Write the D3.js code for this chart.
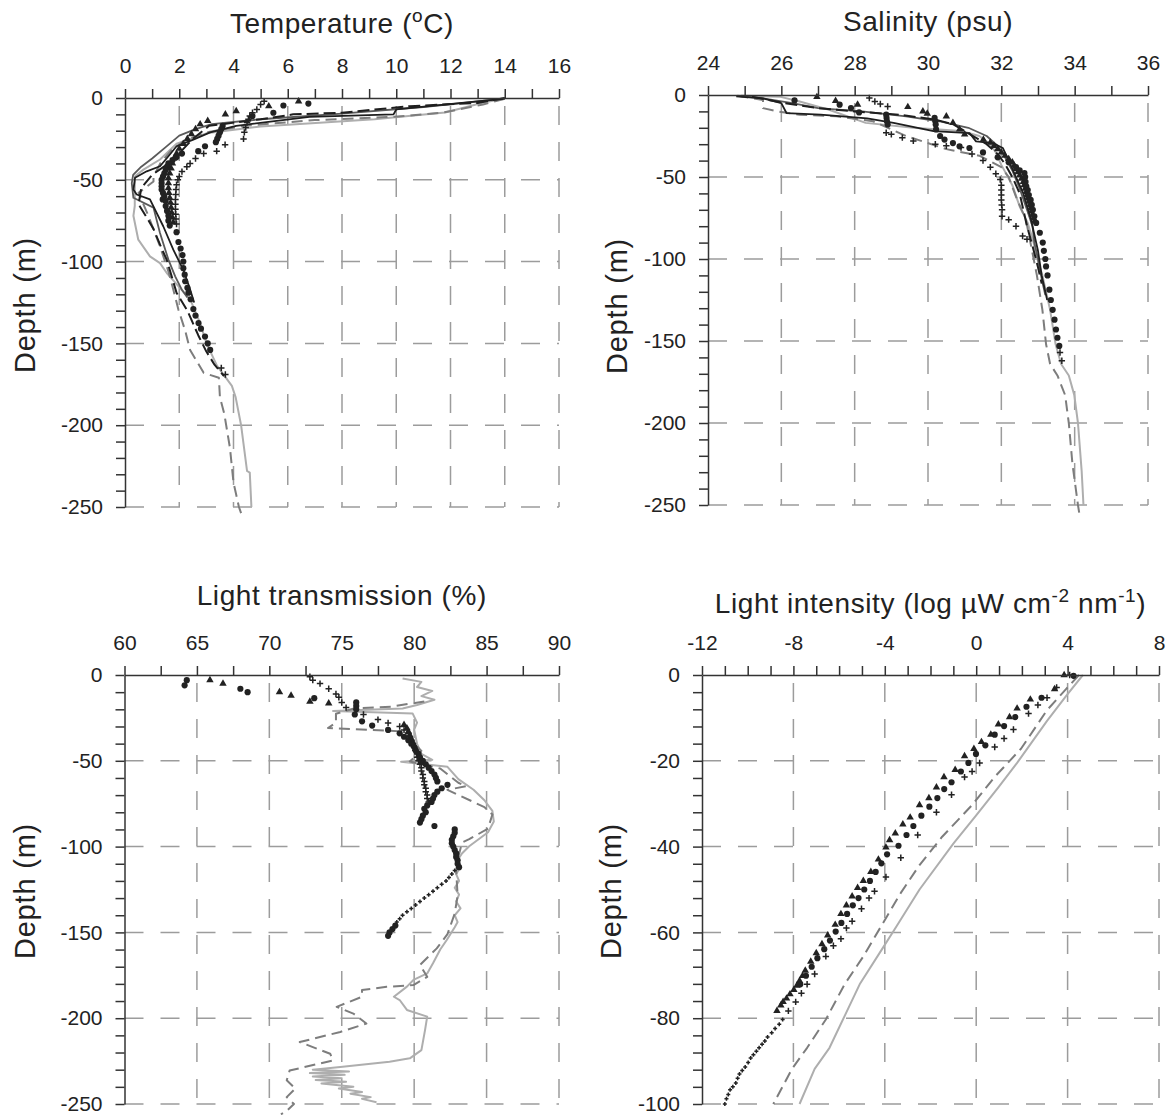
<!DOCTYPE html>
<html>
<head>
<meta charset="utf-8">
<script src="https://cdn.jsdelivr.net/npm/d3@7"></script>
<style>
  body { margin: 0; background: #fff; }
  svg { font-family: "Liberation Sans", Arial, Helvetica, sans-serif; }
</style>
</head>
<body>
<div id="chart"></div>
<script>
/* DATA: each profile is a list of [value, depth] */

// Temperature (deg C)
const tempGray = [[14.0,-0.4],[13.3,-2.5],[11.8,-8.9],[9.2,-13],[5.0,-17.4],[3.0,-21.6],[1.9,-28],[1.29,-37.6],[0.68,-43.8],[0.37,-47.8],[0.36,-55.5],[0.36,-66],[0.31,-72],[0.49,-86.6],[0.92,-96.8],[1.29,-100.9],[1.54,-107],[2.4,-123],[2.77,-137.6],[3.0,-149.8],[3.39,-163.6],[3.94,-176],[4.08,-183],[4.28,-200],[4.5,-228],[4.6,-229],[4.66,-250]];
const tempDashGray = [[14.0,-0.5],[13.2,-4],[11.7,-9],[9.9,-11.5],[7.0,-13.5],[4.4,-17],[3.0,-21],[2.2,-26],[1.7,-32],[1.3,-40],[1.05,-48],[1.05,-51],[0.5,-58],[0.86,-72],[1.29,-90.7],[1.6,-106],[1.78,-117],[1.97,-129.4],[2.21,-141.7],[2.4,-154],[2.9,-168],[3.46,-171],[3.5,-183],[3.66,-193],[3.87,-214],[4.0,-235],[4.2,-250],[4.35,-257]];
const tempBlack = [[13.95,-0.5],[12.98,-2],[10.0,-7],[9.9,-10],[6.8,-11.5],[4.1,-17],[3.14,-21],[2.52,-25.4],[1.9,-29.5],[1.6,-35.6],[1.29,-41.7],[0.8,-44.8],[0.37,-48.8],[0.31,-56],[0.43,-59],[0.92,-62],[1.41,-78.4],[1.78,-92.7],[2.15,-105],[2.4,-117],[2.55,-125]];
const tempDarkGray = [[14.0,-0.3],[12.5,-3],[11.0,-5.5],[8.0,-9.5],[5.0,-13],[3.2,-16],[2.6,-19],[2.0,-23],[1.5,-30],[1.0,-37],[0.6,-42],[0.3,-47],[0.25,-52],[0.31,-61],[1.05,-67],[1.29,-82.5],[1.6,-98.8],[1.85,-109],[2.09,-117],[2.3,-122]];
const tempBlackDash = [[14.0,0],[13.0,-3],[10.5,-5],[8.0,-9],[6.2,-10],[5.0,-13],[3.1,-17],[2.5,-25],[2.1,-32],[1.6,-40],[1.0,-47],[0.6,-55],[0.5,-65],[0.8,-73],[1.05,-80],[1.3,-90],[1.54,-99],[1.9,-119],[2.3,-130],[2.7,-145],[3.0,-155],[3.3,-163],[3.65,-170]];
const tempTri = [[6.4,-2],[5.3,-5],[4.1,-8],[3.7,-10],[3.05,-14],[2.77,-16],[2.6,-19],[2.45,-22],[2.3,-25],[2.15,-28],[2.0,-31],[1.9,-34],[1.8,-37],[1.75,-40],[1.7,-43],[1.65,-46],[1.6,-49],[1.6,-52],[1.6,-55],[1.62,-58],[1.65,-61],[1.68,-64],[1.7,-67],[1.72,-70],[1.75,-73],[1.78,-76]];
const tempCirc = [[6.76,-3.4],[5.84,-4.6],[5.47,-9],[4.7,-11],[3.6,-17],[3.55,-19],[3.5,-21],[3.45,-23],[3.4,-25],[3.35,-27],[2.95,-29.5],[2.7,-32.5],[2.1,-34],[1.9,-36],[1.75,-38],[1.6,-40],[1.55,-42],[1.5,-44],[1.45,-46],[1.4,-48],[1.35,-50],[1.35,-52],[1.35,-54],[1.35,-56],[1.4,-58],[1.45,-60],[1.39,-62],[1.5,-63],[1.5,-66],[1.55,-69],[1.6,-72],[1.6,-75],[1.65,-78],[1.9,-82],[1.97,-88],[2.05,-92],[2.12,-96],[2.15,-100],[2.15,-104],[2.2,-108],[2.22,-112],[2.3,-116],[2.34,-119],[2.42,-123],[2.52,-129],[2.6,-133],[2.71,-137.6],[2.8,-141],[2.95,-145.8],[3.05,-150],[3.14,-154]];
const tempPlus = [[5.13,-2],[5.0,-4],[4.86,-7],[4.7,-9],[4.6,-11],[4.55,-13],[4.5,-15],[4.45,-18],[4.4,-21],[4.37,-25],[3.69,-28.5],[3.38,-32.5],[2.9,-34],[2.6,-37],[2.4,-40],[2.28,-42],[2.1,-45],[2.0,-48],[1.95,-50],[1.9,-53],[1.88,-56],[1.87,-59],[1.86,-62],[1.86,-65],[1.86,-68],[1.87,-71],[1.88,-74],[1.9,-77],[3.55,-165],[3.7,-169]];

// Salinity (psu)
const salGray = [[24.9,-0.5],[25.95,-1],[26.5,-4],[27.3,-9],[28.3,-17],[29.6,-20],[30.9,-22],[31.4,-25],[31.7,-30],[31.85,-35],[32.0,-42.6],[32.3,-55],[32.5,-68],[32.72,-78],[32.87,-89],[32.97,-99],[33.12,-110],[33.33,-131],[33.48,-152],[33.63,-164],[33.84,-171],[33.99,-183],[34.09,-200],[34.19,-229],[34.24,-250]];
const salDashGray = [[24.8,-0.5],[25.5,-3],[25.5,-8],[25.9,-10],[26.5,-12],[27.5,-13],[28.5,-16],[29.4,-25],[30.5,-33],[31.4,-37],[32.0,-44],[32.2,-50],[32.4,-62],[32.67,-76],[32.82,-93],[32.97,-110],[33.12,-131],[33.22,-152],[33.33,-164],[33.53,-171],[33.74,-183],[33.84,-200],[33.94,-225],[34.09,-250],[34.14,-257]];
const salBlack = [[24.77,-0.8],[25.5,-2],[26.0,-5],[26.14,-11],[27.07,-12],[28.34,-14.2],[29.06,-17],[30.15,-22],[31.13,-23.2],[31.31,-28.3],[31.77,-29.3],[32.04,-32.3],[32.2,-40],[32.4,-50],[32.6,-60],[32.8,-75],[32.9,-85],[33.0,-95],[33.1,-110],[33.25,-125]];
const salDarkGray = [[24.8,-0.5],[25.5,-2],[26.3,-5],[27.0,-8],[28.2,-10],[29.4,-13],[30.3,-16],[31.1,-20],[31.6,-25],[31.9,-31],[32.1,-38],[32.3,-46],[32.5,-57],[32.7,-70],[32.85,-80],[32.9,-90],[33.0,-100],[33.1,-112],[33.2,-122]];
const salBlackDash = [[25.2,-1],[26.1,-5],[27.0,-8],[28.0,-10],[29.2,-12],[30.2,-15],[30.7,-18],[31.3,-26],[31.6,-30],[31.9,-36],[32.1,-42],[32.3,-50],[32.5,-60],[32.6,-70],[32.7,-80],[32.85,-92],[33.0,-105],[33.1,-115]];
const salTri = [[26.97,-1.2],[27.48,-3.5],[28.08,-5.8],[29.45,-7.3],[29.86,-10],[29.98,-11.3],[30.5,-13],[30.68,-17],[30.86,-21],[31.0,-24],[31.51,-27.2],[31.7,-29],[31.8,-31],[31.9,-33],[32.0,-35],[32.1,-37],[32.2,-39],[32.3,-41],[32.35,-43],[32.4,-45],[32.45,-47],[32.5,-49],[32.55,-51],[32.6,-53],[32.62,-55],[32.65,-57],[32.68,-59],[32.7,-61],[32.72,-63],[32.75,-65],[32.78,-67],[32.8,-69],[32.82,-71],[32.85,-73],[32.88,-75],[32.9,-77]];
const salCirc = [[26.36,-3.3],[27.59,-5.9],[27.9,-8],[28.12,-10.6],[28.86,-12],[28.87,-14],[28.88,-16],[28.9,-18],[30.18,-14],[30.2,-16],[30.21,-18],[30.22,-21],[30.33,-25],[30.45,-27.2],[30.68,-29.3],[30.86,-31.3],[31.13,-32.3],[31.5,-35],[31.9,-38],[32.2,-41],[32.4,-44],[32.5,-46],[32.63,-47.6],[32.65,-50],[32.66,-53],[32.68,-55.7],[32.72,-58],[32.75,-61],[32.8,-64],[32.83,-67],[32.86,-70],[32.9,-74],[32.95,-78],[33.05,-84],[33.13,-90],[33.16,-95],[33.2,-100],[33.22,-104.5],[33.26,-110],[33.31,-118.7],[33.35,-125],[33.4,-131],[33.45,-137],[33.49,-143],[33.53,-148],[33.58,-153]];
const salPlus = [[28.4,-1.8],[28.55,-4],[28.7,-5.5],[28.9,-7],[28.86,-23],[29.0,-24],[29.3,-26],[29.6,-28],[30.2,-30],[30.5,-31],[30.9,-32],[31.2,-36],[31.5,-40],[31.7,-44],[31.85,-48],[31.97,-51.6],[32.0,-55],[32.0,-58],[32.0,-61],[32.0,-64],[32.01,-67],[32.02,-70],[32.02,-74],[32.2,-76],[32.4,-80],[32.58,-86],[32.7,-88],[33.6,-157],[33.65,-162]];

// Light transmission (%)
const trGray = [[79.2,-2],[80.5,-4],[80.2,-7],[81.25,-9.3],[80.5,-12.3],[81.4,-14.4],[80.2,-17.5],[79.2,-19.5],[74.4,-21],[79.9,-22.5],[80.2,-27.8],[80.0,-31.9],[80.2,-40.1],[80.5,-46],[81.25,-49.4],[79.1,-50.5],[82.3,-53.5],[83.05,-60.7],[84.1,-66.9],[84.85,-73],[85.4,-79.2],[85.5,-85.4],[85.1,-91.6],[83.8,-99.8],[83.3,-104],[83.0,-108],[83.2,-112],[82.9,-116],[83.1,-120],[82.8,-124],[83.1,-128],[82.9,-132],[83.2,-136],[82.8,-140],[83.0,-144],[82.8,-147],[82.25,-154.4],[81.8,-160],[81.3,-168],[80.9,-173.9],[79.95,-177.7],[79.5,-181.6],[78.6,-187.5],[79.0,-189.4],[79.5,-195.2],[80.9,-199.1],[80.75,-206.9],[80.5,-218.6],[79.7,-223.4],[78.3,-225.4],[74.9,-228.4],[73.0,-230],[75.5,-231],[72.8,-232],[75.2,-233],[73.0,-234],[75.0,-235],[73.2,-236],[75.3,-237],[73.6,-238],[75.8,-240],[74.8,-241],[76.4,-243],[75.6,-244],[77.0,-246],[76.4,-247],[77.4,-249]];
const trDashGray = [[80.7,-15.4],[78.4,-18.5],[75.85,-19.5],[74.6,-22.6],[74.6,-27.8],[74.05,-30.9],[79.2,-32.9],[80.5,-44.2],[79.7,-50.4],[81.8,-54.5],[83.05,-62.8],[83.6,-64.8],[82.3,-66.9],[84.85,-77],[85.4,-81.3],[85.1,-89.5],[83.8,-95.7],[83.3,-97.7],[83.05,-106],[82.9,-114],[83.0,-128.6],[82.8,-139],[82.3,-151],[81.56,-159.3],[80.4,-169],[80.9,-175.9],[79.95,-180.7],[78.1,-181.7],[76.4,-183.6],[76.4,-187.5],[74.65,-193.4],[75.8,-197.3],[76.7,-203.1],[74.9,-208],[72.1,-213.9],[74.2,-220.7],[74.4,-224.6],[71.4,-230.5],[71.2,-236.2],[71.8,-241],[71.2,-246],[71.7,-250],[71.2,-254],[70.8,-256]];
const trTri = [[65.9,-3],[66.8,-5],[70.7,-10],[71.5,-12],[72.8,-15.5],[74.1,-16.5],[79.3,-29],[79.5,-31],[79.6,-33],[79.7,-35],[79.8,-37],[79.9,-39],[80.0,-41],[80.1,-43],[80.2,-45],[80.3,-47],[80.4,-49],[80.5,-51]];
const trCirc = [[64.3,-3],[64.15,-6],[68.0,-8],[68.5,-10],[73.1,-13.5],[76.0,-16],[76.0,-18],[76.0,-20],[75.9,-23],[76.4,-27],[77.1,-29.5],[78.2,-32],[79.0,-34],[79.3,-36],[79.6,-38],[79.8,-40],[80.0,-42],[80.1,-44],[80.3,-46],[80.4,-48],[80.6,-50],[80.8,-52],[81.0,-54],[81.2,-56],[81.4,-58],[81.5,-60],[81.6,-62],[82.3,-64],[81.9,-66],[81.6,-68],[81.4,-70],[81.3,-72],[81.2,-74],[80.9,-76],[80.7,-78],[80.8,-80],[80.6,-82],[80.5,-84],[80.4,-86],[81.4,-88],[82.8,-90],[82.8,-92],[82.7,-94],[82.6,-96],[82.6,-98],[82.7,-100],[82.8,-102],[82.9,-104],[82.9,-106],[83.0,-108],[83.0,-110],[83.1,-112],[78.7,-146],[78.5,-148],[78.3,-150],[78.2,-152]];
const trPlus = [[72.8,-1],[73.0,-3],[73.5,-5],[74.1,-8],[74.6,-11],[74.8,-13],[75.0,-16],[75.3,-19],[76.5,-23],[77.5,-26],[78.2,-28],[79.0,-30],[79.3,-32],[79.6,-34],[79.7,-36],[79.8,-38],[79.9,-40],[80.0,-42],[80.1,-44],[80.2,-46],[80.2,-48],[80.3,-50],[80.4,-52],[80.5,-54],[80.5,-56],[80.6,-58],[80.6,-60],[80.7,-62],[80.7,-64],[80.8,-66],[80.8,-68],[80.9,-70],[80.9,-72],[81.0,-74],[82.8,-114],[82.6,-116],[82.4,-118],[82.2,-120],[81.9,-122],[81.6,-124],[81.3,-126],[81.0,-128],[80.7,-130],[80.4,-132],[80.1,-134],[79.8,-136],[79.5,-138],[79.2,-140],[79.0,-142],[78.8,-144]];

// Light intensity (log uW cm-2 nm-1)
const liGray = [[4.67,0],[3.93,-4.9],[3.1,-10.7],[1.79,-20.5],[0.97,-26.2],[-0.01,-32.8],[-1.0,-39.3],[-2.48,-50],[-3.63,-59.8],[-4.12,-63.9],[-5.1,-72.1],[-5.76,-79.5],[-6.42,-86.9],[-7.07,-91.8],[-7.73,-100]];
const liDashGray = [[4.5,0],[3.93,-3.3],[3.1,-8.2],[1.96,-17.2],[0.8,-23.8],[-0.18,-30.3],[-1.49,-37.7],[-2.48,-44.3],[-3.3,-50.8],[-4.12,-58.2],[-4.94,-65.6],[-5.76,-72.1],[-6.58,-80.3],[-7.4,-86.9],[-8.06,-91.8],[-8.88,-100]];
const liTri = [[3.85,0],[3.43,-3.3],[2.37,-5.7],[1.79,-7.8],[1.46,-9.8],[0.97,-11.5],[0.64,-13.9],[0.23,-15.6],[-0.1,-17.2],[-0.51,-18.9],[-0.92,-22.1],[-1.41,-23.8],[-1.74,-26.2],[-2.07,-28.7],[-2.48,-30.3],[-2.89,-33.2],[-3.21,-34.8],[-3.54,-36.9],[-3.79,-38.5],[-3.95,-40.2],[-4.28,-43],[-4.61,-45.9],[-4.94,-48],[-5.19,-49.6],[-5.43,-51.6],[-5.68,-53.7],[-5.92,-55.7],[-6.17,-58.2],[-6.5,-60.7],[-6.75,-62.7],[-7.0,-64.8],[-7.24,-66.8],[-7.48,-68.9],[-7.6,-70.1],[-7.73,-71.3],[-7.85,-72.4],[-7.98,-73.4],[-8.15,-74.4],[-8.3,-75.4],[-8.45,-76.2],[-8.55,-77],[-8.72,-78.3]];
const liCirc = [[4.26,-0.2],[2.86,-5.3],[2.2,-7.4],[1.71,-9.8],[1.22,-11.9],[0.81,-13.9],[0.4,-16.4],[-0.01,-18.4],[-0.34,-20.5],[-0.67,-22.5],[-1.08,-25],[-1.4,-26.6],[-1.7,-28.7],[-2.05,-30.7],[-2.4,-32.8],[-2.75,-35.2],[-3.05,-37.3],[-3.4,-39.8],[-3.9,-41.8],[-4.15,-43.9],[-4.4,-45.9],[-4.65,-48],[-4.9,-50],[-5.15,-52],[-5.4,-53.7],[-5.65,-55.7],[-5.9,-57.8],[-6.15,-59.8],[-6.4,-61.9],[-6.65,-63.9],[-6.95,-66],[-7.2,-68],[-7.45,-70.1],[-7.7,-72.1]];
const liPlus = [[4.09,0],[3.52,-2.9],[3.1,-5.3],[2.7,-7],[2.29,-9],[1.63,-12.7],[1.22,-14.8],[0.81,-16.8],[0.15,-20.5],[-0.18,-22.5],[-0.51,-23.8],[-1.08,-27.9],[-1.74,-32],[-2.56,-37.3],[-3.3,-42.6],[-3.95,-47.1],[-4.45,-50.4],[-4.69,-52],[-5.02,-54.5],[-5.43,-57.4],[-5.68,-59],[-5.92,-61.5],[-6.25,-63.1],[-6.58,-65.6],[-7.07,-69.7],[-7.4,-72.1],[-7.65,-74.2],[-7.9,-76.2],[-8.22,-78.3],[-8.47,-80.3],[-8.62,-81.4],[-8.8,-82.4],[-8.95,-83.4],[-9.13,-84.4],[-9.25,-85.3],[-9.37,-86.1],[-9.5,-86.9],[-9.62,-87.7],[-9.75,-88.5],[-9.87,-89.3],[-9.98,-90.3],[-10.11,-91.4],[-10.24,-92.2],[-10.36,-93],[-10.44,-94],[-10.52,-95.1],[-10.65,-96],[-10.77,-96.7],[-10.85,-97.8],[-10.93,-98.8],[-11.0,-100]];

/* STYLES */
const lineStyles = {
  gray:     { stroke: "#aeaeae", width: 2,   dash: null },
  dashGray: { stroke: "#7d7d7d", width: 2,   dash: "11,6" },
  black:    { stroke: "#1e1e1e", width: 1.8, dash: null },
  darkGray: { stroke: "#5a5a5a", width: 1.8, dash: null },
  blackDash:{ stroke: "#1e1e1e", width: 2,   dash: "12,5" }
};
const ink = "#222";
const gridColor = "#9c9c9c";

/* PANELS (layout only) — titles are centred over the plot area;
   smallPlusBelow: depth under which the plus marks are drawn small */
const panels = [
  { xDomain: [0, 16], xRange: [125, 559], yDomain: [0, -250], yRange: [98, 507],
    xMinor: 1, xMajor: 2, yMinor: 10, yMajor: 50,
    title: [{ t: "Temperature (" }, { t: "o", sup: true }, { t: "C)" }], titleY: 33,
    labelX: 25, labelY: 305, smallPlusBelow: -999,
    lines: [[tempGray, "gray"], [tempDashGray, "dashGray"], [tempDarkGray, "darkGray"], [tempBlack, "black"], [tempBlackDash, "blackDash"]],
    marks: [[tempTri, "tri"], [tempCirc, "circ"], [tempPlus, "plus"]] },
  { xDomain: [24, 36], xRange: [708, 1148], yDomain: [0, -250], yRange: [95, 505],
    xMinor: 1, xMajor: 2, yMinor: 10, yMajor: 50,
    title: [{ t: "Salinity (psu)" }], titleY: 31,
    labelX: 617, labelY: 306, smallPlusBelow: -999,
    lines: [[salGray, "gray"], [salDashGray, "dashGray"], [salDarkGray, "darkGray"], [salBlack, "black"], [salBlackDash, "blackDash"]],
    marks: [[salTri, "tri"], [salCirc, "circ"], [salPlus, "plus"]] },
  { xDomain: [60, 90], xRange: [124.5, 559], yDomain: [0, -250], yRange: [675, 1104],
    xMinor: 2.5, xMajor: 5, yMinor: 10, yMajor: 50,
    title: [{ t: "Light transmission (%)" }], titleY: 605,
    labelX: 25, labelY: 891, smallPlusBelow: -110,
    lines: [[trGray, "gray"], [trDashGray, "dashGray"]],
    marks: [[trTri, "tri"], [trCirc, "circ"], [trPlus, "plus"]] },
  { xDomain: [-12, 8], xRange: [702, 1159], yDomain: [0, -100], yRange: [675, 1104],
    xMinor: 1, xMajor: 4, yMinor: 4, yMajor: 20,
    title: [{ t: "Light intensity (log \u00b5W cm" }, { t: "-2", sup: true }, { t: " nm" }, { t: "-1", sup: true }, { t: ")" }], titleY: 613,
    labelX: 611, labelY: 891, smallPlusBelow: -80,
    lines: [[liGray, "gray"], [liDashGray, "dashGray"]],
    marks: [[liTri, "tri"], [liCirc, "circ"], [liPlus, "plus"]] }
];

const svg = d3.select("#chart").append("svg")
  .attr("width", 1168)
  .attr("height", 1115);

const isMajor = (v, step) => Math.abs(v / step - Math.round(v / step)) < 1e-6;
const fmt = d => String(Math.round(d * 100) / 100);

const markSymbols = {
  tri: d3.symbol().type(d3.symbolTriangle).size(24)(),
  circ: d3.symbol().type(d3.symbolCircle).size(30)(),
  plus: "M-3.2,0H3.2M0,-3.2V3.2",
  plusSmall: "M-2,0H2M0,-2V2"
};

panels.forEach(p => {
  const x = d3.scaleLinear().domain(p.xDomain).range(p.xRange);
  const y = d3.scaleLinear().domain(p.yDomain).range(p.yRange);
  const g = svg.append("g");

  // --- dashed grid at major ticks ---
  const xMajors = d3.range(p.xDomain[0] + p.xMajor, p.xDomain[1] + 1e-9, p.xMajor);
  const yMajors = d3.range(p.yDomain[0] - p.yMajor, p.yDomain[1] - 1e-9, -p.yMajor);

  g.selectAll(".vgrid").data(xMajors).join("line")
    .attr("class", "vgrid")
    .attr("x1", d => x(d)).attr("x2", d => x(d))
    .attr("y1", y(p.yDomain[0])).attr("y2", y(p.yDomain[1]))
    .attr("stroke", gridColor).attr("stroke-width", 1.5)
    .attr("stroke-dasharray", "19,17").attr("stroke-dashoffset", -8);

  g.selectAll(".hgrid").data(yMajors).join("line")
    .attr("class", "hgrid")
    .attr("x1", x(p.xDomain[0])).attr("x2", x(p.xDomain[1]))
    .attr("y1", d => y(d)).attr("y2", d => y(d))
    .attr("stroke", gridColor).attr("stroke-width", 1.5)
    .attr("stroke-dasharray", "19,17");

  // --- profile lines ---
  const line = d3.line().x(d => x(d[0])).y(d => y(d[1]));
  p.lines.forEach(([data, key]) => {
    const s = lineStyles[key];
    g.append("path")
      .datum(data)
      .attr("d", line)
      .attr("fill", "none")
      .attr("stroke", s.stroke)
      .attr("stroke-width", s.width)
      .attr("stroke-linejoin", "round")
      .attr("stroke-dasharray", s.dash);
  });

  // --- markers ---
  p.marks.forEach(([data, kind]) => {
    g.selectAll(".m-" + kind).data(data).join("path")
      .attr("class", "m-" + kind)
      .attr("transform", d => `translate(${x(d[0])},${y(d[1])})`)
      .attr("d", d => kind === "plus" && d[1] < p.smallPlusBelow ? markSymbols.plusSmall : markSymbols[kind])
      .attr("fill", kind === "plus" ? "none" : ink)
      .attr("stroke", kind === "plus" ? ink : "none")
      .attr("stroke-width", 1.5);
  });

  // --- axes ---
  const xAxis = d3.axisTop(x)
    .tickValues(d3.range(p.xDomain[0], p.xDomain[1] + 1e-9, p.xMinor))
    .tickSize(9).tickSizeOuter(0).tickPadding(16)
    .tickFormat(d => isMajor(d - p.xDomain[0], p.xMajor) ? fmt(d) : "");
  const yAxis = d3.axisLeft(y)
    .tickValues(d3.range(0, p.yDomain[1] - 1e-9, -p.yMinor))
    .tickSize(9).tickSizeOuter(0).tickPadding(13)
    .tickFormat(d => isMajor(d, p.yMajor) ? fmt(d) : "");

  const gx = g.append("g").attr("transform", `translate(0,${y(0)})`).call(xAxis);
  const gy = g.append("g").attr("transform", `translate(${x(p.xDomain[0])},0)`).call(yAxis);
  [gx, gy].forEach(a => {
    a.select(".domain").attr("stroke", "#333").attr("stroke-width", 1.5);
    a.selectAll(".tick line").attr("stroke", "#333").attr("stroke-width", 1.5);
    a.selectAll(".tick text").attr("fill", ink).style("font-size", "21px")
      .style("font-family", "'Liberation Sans', Arial, sans-serif");
    a.selectAll(".tick text").filter(function () { return this.textContent === ""; }).remove();
  });

  // --- titles (superscripts raised by dy, next segment dropped back) ---
  const title = g.append("text")
    .attr("x", (p.xRange[0] + p.xRange[1]) / 2).attr("y", p.titleY)
    .attr("text-anchor", "middle")
    .attr("fill", ink)
    .style("font-size", "28px")
    .style("letter-spacing", "0.6px");
  let raised = false;
  p.title.forEach(seg => {
    const dy = seg.sup ? (raised ? 0 : -11) : (raised ? 11 : 0);
    title.append("tspan")
      .attr("dy", dy)
      .style("font-size", seg.sup ? "19px" : null)
      .text(seg.t);
    raised = !!seg.sup;
  });

  g.append("text")
    .attr("transform", `translate(${p.labelX},${p.labelY}) rotate(-90)`)
    .attr("text-anchor", "middle")
    .attr("dy", "0.35em")
    .attr("fill", ink)
    .style("font-size", "29px")
    .style("letter-spacing", "0.8px")
    .text("Depth (m)");
});
</script>
</body>
</html>
